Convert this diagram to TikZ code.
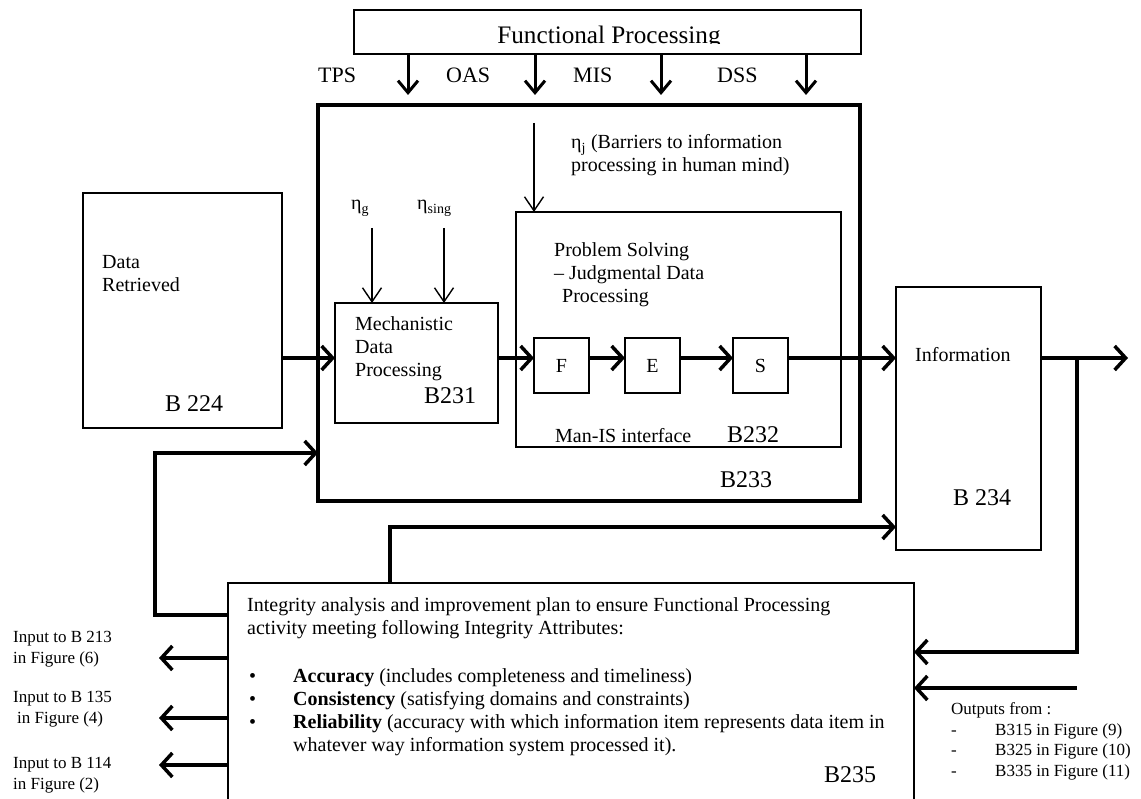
\documentclass[tikz,border=0pt]{standalone}
\usepackage{fontspec}
\setmainfont{Liberation Serif}
\usetikzlibrary{arrows.meta}

\begin{document}
\begin{tikzpicture}
[x=1pt,y=-1pt,
box/.style={draw,line width=1.4pt,inner sep=0pt,outer sep=0pt,anchor=north west},
frame/.style={draw,line width=4pt,inner sep=0pt,outer sep=0pt,anchor=north west},
txt/.style={anchor=base west,inner sep=0pt,align=left,font=\fontsize{20}{23}\selectfont},
lab/.style={anchor=base west,inner sep=0pt,font=\fontsize{22}{26}\selectfont},
blab/.style={anchor=base west,inner sep=0pt,font=\fontsize{24}{28}\selectfont},
note/.style={anchor=base west,inner sep=0pt,align=left,font=\fontsize{17}{20.5}\selectfont},
arr/.style={line width=3.5pt,-{Straight Barb[length=11pt,width=24pt]}},
fparr/.style={line width=3pt,-{Straight Barb[length=12pt,width=20pt]}},
thin/.style={line width=1.4pt,-{Straight Barb[length=14pt,width=19pt]}}]
\useasboundingbox (0,0) rectangle (1141,799);
% functional processing on top
\node[box,minimum width=507pt,minimum height=44pt] (fp) at (354,10) {};
\begin{scope}
\clip (354,10) rectangle (861,44);
\node[anchor=base,inner sep=0pt,font=\fontsize{25.2}{29}\selectfont] (fptxt) at (609,44) {Functional Processing};
\end{scope}
\node[lab] (ltps) at (318,83) {TPS};
\node[lab] (loas) at (446,83) {OAS};
\node[lab] (lmis) at (573,83) {MIS};
\node[lab] (ldss) at (717,83) {DSS};
\coordinate (tps) at (408,95);
\coordinate (oas) at (535,95);
\coordinate (mis) at (661,95);
\coordinate (dss) at (806,95);
\draw[fparr] (fp.south -| tps) -- (tps);
\draw[fparr] (fp.south -| oas) -- (oas);
\draw[fparr] (fp.south -| mis) -- (mis);
\draw[fparr] (fp.south -| dss) -- (dss);
% blocks (multi-line texts sit on their last baseline)
\node[frame,minimum width=542pt,minimum height=396pt] (b233) at (318,105) {};
\node[blab] (lb233) at (720,487) {B233};
\node[box,minimum width=199pt,minimum height=235pt] (b224) at (83,193) {};
\node[txt] (ldata) at (102,292) {Data\\Retrieved};
\node[blab] (lb224) at (165,412) {B 224};
\node[box,minimum width=163pt,minimum height=120pt] (b231) at (335,303) {};
\node[txt] (lmech) at (355,377) {Mechanistic\\Data\\Processing};
\node[blab] (lb231) at (424,404) {B231};
\node[box,minimum width=325pt,minimum height=235pt] (b232) at (516,212) {};
\node[txt] (lprob) at (554,303) {Problem Solving\\– Judgmental Data\\\hspace*{8pt}Processing};
\node[txt] (lman) at (555,443) {Man-IS interface};
\node[blab] (lb232) at (727,443) {B232};
\node[box,minimum size=55pt,font=\fontsize{20}{23}\selectfont] (f) at (534,338) {F};
\node[box,minimum size=55pt,font=\fontsize{20}{23}\selectfont] (e) at (625,338) {E};
\node[box,minimum size=55pt,font=\fontsize{20}{23}\selectfont] (s) at (733,338) {S};
\node[box,minimum width=145pt,minimum height=263pt] (info) at (896,287) {};
\node[txt] (linfo) at (915,362) {Information};
\node[blab] (lb234) at (953,505) {B 234};
\node[box,minimum width=686pt,minimum height=219pt] (b235) at (228,583) {};
\node[txt] (lint) at (247,634) {Integrity analysis and improvement plan to ensure Functional Processing\\activity meeting following Integrity Attributes:};
\node[txt] (lattr) at (249,751) {\makebox[44pt][l]{•}\textbf{Accuracy} (includes completeness and timeliness)\\
\makebox[44pt][l]{•}\textbf{Consistency} (satisfying domains and constraints)\\
\makebox[44pt][l]{•}\textbf{Reliability} (accuracy with which information item represents data item in\\
\hspace*{44pt}whatever way information system processed it).};
\node[blab] (lb235) at (824,782) {B235};
% barriers
\node[txt] (etag) at (351,210) {η\textsubscript{g}};
\node[txt] (etas) at (417,210) {η\textsubscript{sing}};
\node[txt] (etaj) at (571,172) {η\textsubscript{j} (Barriers to information\\processing in human mind)};
\coordinate (gin) at (372,228);
\coordinate (sin) at (444,228);
\coordinate (jin) at (534,123);
\draw[thin] (gin) -- (b231.north -| gin);
\draw[thin] (sin) -- (b231.north -| sin);
\draw[thin] (jin) -- (b232.north -| jin);
% main flow
\coordinate (flow) at (0,358);
\draw[arr] (b224.east |- flow) -- (b231.west |- flow);
\draw[arr] (b231.east |- flow) -- (f.west |- flow);
\draw[arr] (f.east |- flow) -- (e.west |- flow);
\draw[arr] (e.east |- flow) -- (s.west |- flow);
\draw[arr] (s.east |- flow) -- (info.west |- flow);
\coordinate (out) at (1128,358);
\draw[arr] (info.east |- flow) -- (out);
% loops
\coordinate (jn) at (1077,358);
\coordinate (rl) at (1077,652);
\draw[arr] (jn) -- (rl) -- (b235.east |- rl);
\coordinate (ext) at (1077,688);
\draw[arr] (ext) -- (b235.east |- ext);
\coordinate (lb) at (155,615);
\coordinate (lt) at (155,453);
\draw[arr] (b235.west |- lb) -- (lb) -- (lt) -- (b233.west |- lt);
\coordinate (il) at (390,527);
\draw[arr] (b235.north -| il) -- (il) -- (info.west |- il);
\coordinate (o1) at (159,658);
\coordinate (o2) at (159,718);
\coordinate (o3) at (159,765);
\draw[arr] (b235.west |- o1) -- (o1);
\draw[arr] (b235.west |- o2) -- (o2);
\draw[arr] (b235.west |- o3) -- (o3);
% side notes
\node[note] (n1) at (13,663) {Input to B 213\\in Figure (6)};
\node[note] (n2) at (13,723) {Input to B 135\\\hspace*{4pt}in Figure (4)};
\node[note] (n3) at (13,789) {Input to B 114\\in Figure (2)};
\node[note] (nout) at (951,776) {Outputs from :\\\makebox[44pt][l]{-}B315 in Figure (9)\\\makebox[44pt][l]{-}B325 in Figure (10)\\\makebox[44pt][l]{-}B335 in Figure (11)};
\end{tikzpicture}
\end{document}
